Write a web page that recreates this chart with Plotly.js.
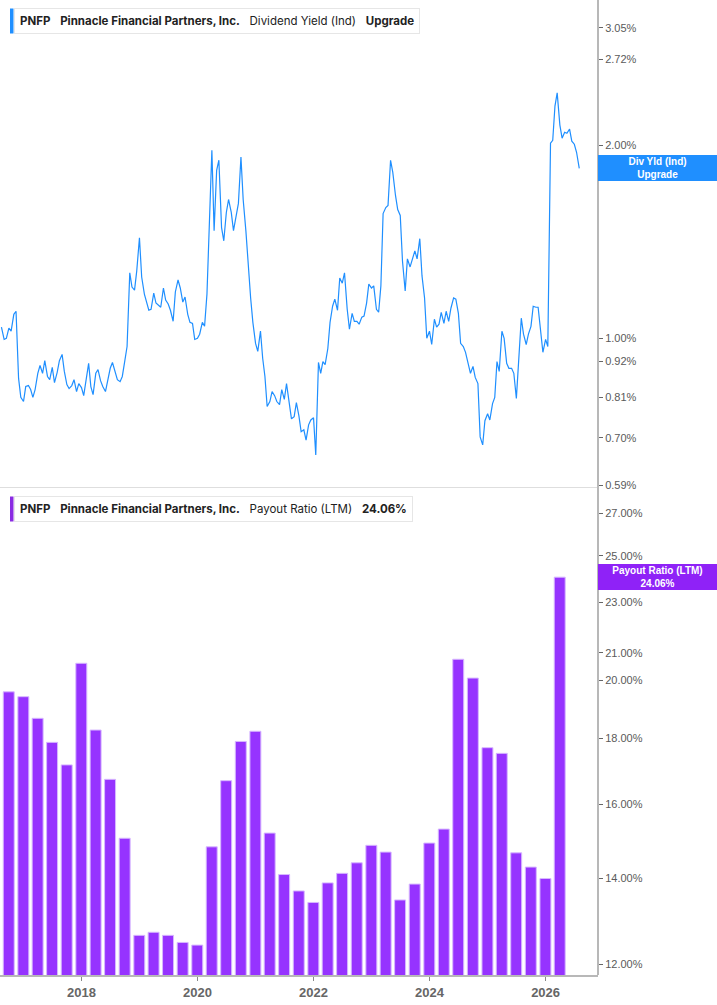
<!DOCTYPE html>
<html>
<head>
<meta charset="utf-8">
<script src="https://cdn.plot.ly/plotly-3.0.1.min.js"></script>
<style>
html,body{margin:0;padding:0;background:#fff;}
#chart{width:717px;height:1005px;}
</style>
</head>
<body>
<div id="chart"></div>
<script>
// ---------- DATA ----------
// Dividend yield (%), semi-monthly readings (1st / 15th) starting 2016-08-15
const yieldStart = [2016, 8, 15];
const yieldValues = [
  1.041, 0.996, 1.000, 1.037, 1.026, 1.090, 1.102, 0.866, 0.809, 0.797,
  0.841, 0.844, 0.832, 0.809, 0.832, 0.882, 0.907, 0.882, 0.923, 0.872,
  0.862, 0.901, 0.853, 0.885, 0.923, 0.944, 0.888, 0.847, 0.835, 0.844,
  0.862, 0.826, 0.850, 0.838, 0.814, 0.875, 0.914, 0.841, 0.817, 0.882,
  0.894, 0.859, 0.841, 0.826, 0.859, 0.898, 0.917, 0.888, 0.862, 0.856,
  0.872, 0.923, 0.971, 1.265, 1.202, 1.189, 1.274, 1.435, 1.246, 1.172,
  1.143, 1.106, 1.110, 1.176, 1.135, 1.127, 1.118, 1.198, 1.147, 1.131,
  1.106, 1.063, 1.181, 1.233, 1.198, 1.139, 1.160, 1.090, 1.059, 1.055,
  0.996, 1.000, 1.015, 1.059, 1.044, 1.172, 1.526, 1.964, 1.472, 1.827,
  1.895, 1.488, 1.419, 1.571, 1.646, 1.571, 1.472, 1.565, 1.623, 1.917,
  1.646, 1.472, 1.302, 1.156, 1.059, 0.982, 0.954, 1.026, 0.930, 0.872,
  0.783, 0.797, 0.826, 0.814, 0.797, 0.788, 0.832, 0.803, 0.850, 0.797,
  0.749, 0.755, 0.794, 0.757, 0.715, 0.720, 0.694, 0.733, 0.746, 0.752,
  0.658, 0.917, 0.882, 0.920, 0.910, 0.964, 1.059, 1.122, 1.151, 1.106,
  1.242, 1.219, 1.265, 1.110, 1.033, 1.094, 1.063, 1.063, 1.052, 1.079,
  1.083, 1.135, 1.215, 1.198, 1.207, 1.110, 1.098, 1.207, 1.565, 1.599,
  1.611, 1.895, 1.814, 1.670, 1.588, 1.554, 1.320, 1.185, 1.330, 1.292,
  1.330, 1.369, 1.330, 1.430, 1.251, 1.156, 1.000, 1.026, 0.978, 1.071,
  1.041, 1.052, 1.098, 1.055, 1.102, 1.063, 1.114, 1.156, 1.151, 1.094,
  0.982, 0.971, 0.951, 0.917, 0.882, 0.904, 0.869, 0.850, 0.702, 0.682,
  0.744, 0.763, 0.746, 0.791, 0.809, 0.920, 0.888, 1.026, 1.000, 0.914,
  0.898, 0.898, 0.882, 0.806, 0.920, 1.075, 1.015, 0.978, 1.015, 1.044,
  1.122, 1.118, 1.118, 1.026, 0.951, 0.996, 0.971, 2.014, 2.036, 2.302,
  2.413, 2.150, 2.051, 2.095, 2.088, 2.119, 2.029, 2.007, 1.950, 1.841
];

// Payout ratio (LTM, %), quarterly, first quarter end 2016-09-30
const payoutStart = [2016, 9];
const payoutValues = [
  19.58, 19.41, 18.67, 17.88, 17.17, 20.61, 18.28, 16.73, 15.05, 12.64,
  12.71, 12.64, 12.48, 12.42, 14.82, 16.69, 17.91, 18.24, 15.19, 14.10,
  13.69, 13.41, 13.89, 14.13, 14.40, 14.86, 14.68, 13.47, 13.86, 14.92,
  15.30, 20.76, 20.07, 17.71, 17.53, 14.66, 14.29, 14.00, 24.06
];

const yieldTicks = [0.59, 0.70, 0.81, 0.92, 1.00, 2.00, 2.72, 3.05];
const payoutTicks = [12, 14, 16, 18, 20, 21, 23, 25, 27];
const yearTicks = ['2018-01-01','2020-01-01','2022-01-01','2024-01-01','2026-01-01'];
const yearLabels = ['2018','2020','2022','2024','2026'];

const ticker = 'PNFP';
const company = 'Pinnacle Financial Partners, Inc.';
const topMetric = 'Dividend Yield (Ind)';
const topStatus = 'Upgrade';
const topTag = 'Div Yld (Ind)';
const botMetric = 'Payout Ratio (LTM)';
const botStatus = '24.06%';

// ---------- BUILD DATES ----------
function pad(n){return (n<10?'0':'')+n;}
const yieldDates = [];
{
  let y = yieldStart[0], m = yieldStart[1], d = yieldStart[2];
  for (let i = 0; i < yieldValues.length; i++) {
    yieldDates.push(y + '-' + pad(m) + '-' + pad(d));
    if (d === 15) { d = 1; m++; if (m > 12) { m = 1; y++; } }
    else { d = 15; }
  }
}
const payoutDates = [];
{
  let y = payoutStart[0], m = payoutStart[1];
  const ends = {3:31, 6:30, 9:30, 12:31};
  for (let i = 0; i < payoutValues.length; i++) {
    payoutDates.push(y + '-' + pad(m) + '-' + ends[m]);
    m += 3; if (m > 12) { m -= 12; y++; }
  }
}

// ---------- STYLE ----------
const BLUE = '#1f8fff';
const PURPLE = '#9633ff';
const W = 598, H = 975; // plot area in px
const px = v => v / W;
const py = v => (H - v) / H;
const sp = '\u00a0\u00a0\u00a0';

const traces = [
  {
    type: 'scatter', mode: 'lines',
    x: yieldDates, y: yieldValues,
    xaxis: 'x2', yaxis: 'y',
    line: {color: BLUE, width: 1.2},
    hoverinfo: 'skip'
  },
  {
    type: 'bar',
    x: payoutDates, y: payoutValues,
    xaxis: 'x', yaxis: 'y2',
    marker: {color: PURPLE, line: {color: '#d7b8ff', width: 1}},
    width: 69 * 24 * 3600 * 1000,
    hoverinfo: 'skip'
  }
];

const tickFont = {family: 'Liberation Sans, Arial, sans-serif', size: 11, color: '#5a5a5a'};
const legFont = {family: 'Inter, Noto Sans, sans-serif', size: 11.5, color: '#222'};

const layout = {
  width: 717, height: 1005,
  margin: {l: 0, r: 119, t: 0, b: 30},
  paper_bgcolor: '#fff', plot_bgcolor: '#fff',
  showlegend: false,
  xaxis: {
    type: 'date', anchor: 'y2',
    range: ['2016-08-06', '2026-11-27'],
    tickvals: yearTicks, ticktext: yearLabels,
    ticks: 'outside', ticklen: 4, tickcolor: '#888', tickwidth: 1,
    showline: true, linecolor: '#b8b8b8', linewidth: 2,
    showgrid: false, zeroline: false,
    tickfont: {family: 'Liberation Sans, Arial, sans-serif', size: 13, color: '#666', weight: 'bold'}
  },
  xaxis2: {
    type: 'date', anchor: 'y', matches: 'x',
    range: ['2016-08-06', '2026-11-27'],
    showticklabels: false, ticks: '',
    showline: true, linecolor: '#dedede', linewidth: 1,
    showgrid: false, zeroline: false
  },
  yaxis: {
    type: 'log', domain: [0.5005, 1], anchor: 'x2', side: 'right',
    range: [-0.2318, 0.5274],
    tickvals: yieldTicks,
    ticktext: yieldTicks.map(v => v.toFixed(2) + '%'),
    ticks: 'outside', ticklen: 4, tickcolor: '#666', tickwidth: 1,
    showgrid: false, zeroline: false, showline: false,
    tickfont: tickFont
  },
  yaxis2: {
    type: 'log', domain: [0, 0.4974], anchor: 'x', side: 'right',
    range: [1.0708, 1.4493],
    tickvals: payoutTicks,
    ticktext: payoutTicks.map(v => v.toFixed(2) + '%'),
    ticks: 'outside', ticklen: 4, tickcolor: '#666', tickwidth: 1,
    showgrid: false, zeroline: false, showline: false,
    tickfont: tickFont
  },
  shapes: [
    {type: 'line', xref: 'paper', yref: 'paper', x0: 1, x1: 1, y0: 0, y1: 1,
     line: {color: '#b8b8b8', width: 2}},
    {type: 'rect', xref: 'paper', yref: 'paper', x0: px(10), x1: px(13.5), y0: py(33.5), y1: py(8.5),
     fillcolor: BLUE, line: {width: 0}},
    {type: 'rect', xref: 'paper', yref: 'paper', x0: px(10), x1: px(13.5), y0: py(521.5), y1: py(496.5),
     fillcolor: '#8a2be2', line: {width: 0}}
  ],
  annotations: [
    {
      xref: 'paper', yref: 'paper', x: px(13.5), y: py(21), xanchor: 'left', yanchor: 'middle',
      showarrow: false, align: 'left',
      text: '<b>' + ticker + '</b>' + sp + '<b>' + company + '</b>' + sp + topMetric + sp + '<b>' + topStatus + '</b>',
      font: legFont,
      bgcolor: '#fff', bordercolor: '#e6e6e6', borderwidth: 1, borderpad: 5
    },
    {
      xref: 'paper', yref: 'paper', x: px(13.5), y: py(509), xanchor: 'left', yanchor: 'middle',
      showarrow: false, align: 'left',
      text: '<b>' + ticker + '</b>' + sp + '<b>' + company + '</b>' + sp + botMetric + sp + '<b>' + botStatus + '</b>',
      font: legFont,
      bgcolor: '#fff', bordercolor: '#e6e6e6', borderwidth: 1, borderpad: 5
    },
    {
      xref: 'paper', yref: 'y', x: 1, y: Math.log10(yieldValues[yieldValues.length - 1]),
      xanchor: 'left', yanchor: 'middle', showarrow: false, align: 'center',
      text: '<b>' + topTag + '</b><br><b>' + topStatus + '</b>',
      font: {family: 'Liberation Sans, Arial, sans-serif', size: 10, color: '#fff'},
      bgcolor: BLUE, width: 119, height: 26, borderpad: 0, borderwidth: 0
    },
    {
      xref: 'paper', yref: 'y2', x: 1, y: Math.log10(payoutValues[payoutValues.length - 1]),
      xanchor: 'left', yanchor: 'middle', showarrow: false, align: 'center',
      text: '<b>' + botMetric + '</b><br><b>' + botStatus + '</b>',
      font: {family: 'Liberation Sans, Arial, sans-serif', size: 10, color: '#fff'},
      bgcolor: '#8f22f7', width: 119, height: 26, borderpad: 0, borderwidth: 0
    }
  ]
};

Plotly.newPlot('chart', traces, layout, {displayModeBar: false, staticPlot: true});
</script>
</body>
</html>
